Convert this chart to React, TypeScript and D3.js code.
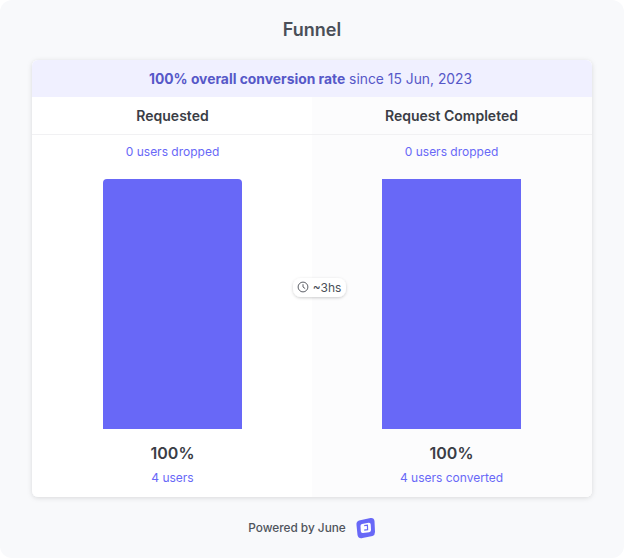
import React, { useEffect, useRef } from 'react';
import * as d3 from 'd3';

const stepNames = ['Requested', 'Request Completed'];
const stepPercents = [100, 100];
const droppedLabels = ['0 users dropped', '0 users dropped'];
const convertedLabels = ['4 users', '4 users converted'];
const titleText = 'Funnel';
const rateBold = '100% overall conversion rate';
const rateRest = ' since 15 Jun, 2023';
const durationLabel = '~3hs';
const footerText = 'Powered by June';

const font = 'Inter, sans-serif';
const purple = '#6868f7';

const App = () => {
  const ref = useRef<SVGSVGElement | null>(null);

  useEffect(() => {
    const svg = d3.select(ref.current);
    svg.selectAll('*').remove();

    const x = d3.scaleBand<string>().domain(stepNames).range([33, 591]);
    const y = d3.scaleLinear().domain([0, 100]).range([429, 179]);
    const barW = 139;

    const defs = svg.append('defs');
    const shadow = defs.append('filter').attr('id', 'cardShadow')
      .attr('x', '-5%').attr('y', '-5%').attr('width', '110%').attr('height', '110%');
    shadow.append('feDropShadow').attr('dx', 0).attr('dy', 1).attr('stdDeviation', 2.5)
      .attr('flood-color', '#000').attr('flood-opacity', 0.13);
    const pillShadow = defs.append('filter').attr('id', 'pillShadow')
      .attr('x', '-20%').attr('y', '-40%').attr('width', '140%').attr('height', '180%');
    pillShadow.append('feDropShadow').attr('dx', 0).attr('dy', 1).attr('stdDeviation', 1.5)
      .attr('flood-color', '#000').attr('flood-opacity', 0.2);
    defs.append('clipPath').attr('id', 'cardClip').append('rect')
      .attr('x', 32).attr('y', 60).attr('width', 560).attr('height', 437).attr('rx', 6);

    // page background
    svg.append('rect').attr('width', 624).attr('height', 558).attr('fill', '#fff');
    svg.append('rect').attr('width', 624).attr('height', 558).attr('rx', 12).attr('fill', '#f8f9fb');

    const addText = (t: string, tx: number, ty: number, size: number, weight: number, fill: string) =>
      svg.append('text')
        .attr('x', tx).attr('y', ty)
        .attr('text-anchor', 'middle')
        .style('font-family', font)
        .style('font-size', `${size}px`)
        .style('font-weight', weight)
        .attr('fill', fill)
        .text(t);

    addText(titleText, 312, 36, 18, 600, '#4a4f58');

    // card
    svg.append('rect').attr('x', 32).attr('y', 60).attr('width', 560).attr('height', 437)
      .attr('rx', 6).attr('fill', '#fff').attr('filter', 'url(#cardShadow)');
    const inner = svg.append('g').attr('clip-path', 'url(#cardClip)');
    inner.append('rect').attr('x', 312).attr('y', 97).attr('width', 280).attr('height', 400).attr('fill', '#fcfcfd');
    inner.append('rect').attr('x', 32).attr('y', 60).attr('width', 560).attr('height', 37).attr('fill', '#f0f0ff');
    inner.append('rect').attr('x', 32).attr('y', 134).attr('width', 560).attr('height', 1).attr('fill', '#f1f1f3');

    const rate = addText('', 310.5, 84, 13.85, 400, '#5658c8');
    rate.append('tspan').style('font-weight', 700).text(rateBold);
    rate.append('tspan').attr('xml:space', 'preserve').text(rateRest);

    stepNames.forEach((name, i) => {
      const bx = x(name)! + x.bandwidth() / 2;
      const top = y(stepPercents[i]);
      const base = y(0);
      const left = bx - barW / 2;
      const right = bx + barW / 2;
      const r = i === 0 ? 4 : 0;

      addText(name, bx, 121, 14, 600, '#3a3d45');
      addText(droppedLabels[i], bx, 156, 12, 400, purple);

      const p = d3.path();
      p.moveTo(left, base);
      p.lineTo(left, top + r);
      if (r) p.arcTo(left, top, left + r, top, r);
      p.lineTo(right - r, top);
      if (r) p.arcTo(right, top, right, top + r, r);
      p.lineTo(right, base);
      p.closePath();
      svg.append('path').attr('d', p.toString()).attr('fill', purple);

      addText(`${stepPercents[i]}%`, bx, 459, 16, 600, '#3a3d45');
      addText(convertedLabels[i], bx, 482, 12, 400, purple);
    });

    // duration pill
    svg.append('rect').attr('x', 293).attr('y', 278).attr('width', 53).attr('height', 19)
      .attr('rx', 8).attr('fill', '#fff').attr('filter', 'url(#pillShadow)');
    const clock = svg.append('g').attr('transform', 'translate(303,287)')
      .attr('fill', 'none').attr('stroke', '#4a4d55').attr('stroke-width', 0.9);
    clock.append('circle').attr('r', 4.9);
    clock.append('path').attr('d', 'M0,-2.8V0L2.2,1.6');
    addText(durationLabel, 327, 292, 12, 400, '#4a4f58');

    // footer
    addText(footerText, 297, 532, 11.8, 500, '#4f545c');
    const logo = svg.append('g').attr('transform', 'translate(365.5,528)');
    logo.append('path')
      .attr('d', 'M-6.5,-7.5L5,-10Q8.5,-10.5 9,-7L9.5,4Q9.5,7 7,8L-3,10Q-7,11 -8,7L-9,-3Q-9.5,-6.5 -6.5,-7.5Z')
      .attr('fill', purple);
    logo.append('path')
      .attr('d', 'M-3.5,-4L3,-5.3Q5.2,-5.6 5.2,-3.5L5.5,2Q5.5,3.8 3.6,4.2L-2.6,5Q-4.6,5.2 -4.7,3.2L-5,-2Q-5.2,-3.7 -3.5,-4Z')
      .attr('fill', '#fff');
    logo.append('path').attr('d', 'M-1.3,-2.4L1.9,-2.8L2.1,1.7L-1.3,2.1').attr('fill', 'none').attr('stroke', purple).attr('stroke-width', 1.2);
  }, []);

  return (
    <svg
      ref={ref}
      width={624}
      height={558}
      style={{ position: 'absolute', left: 0, top: 0, display: 'block' }}
    />
  );
};

export default App;
